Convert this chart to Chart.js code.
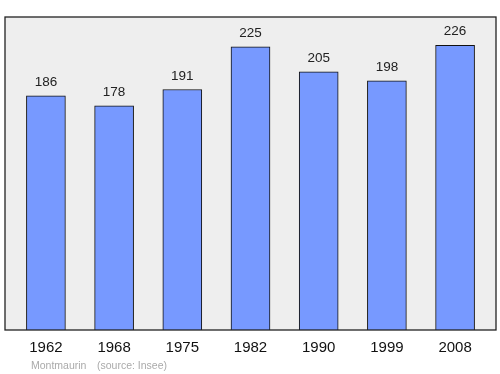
<!DOCTYPE html>
<html>
<head>
<meta charset="utf-8">
<script src="https://cdn.jsdelivr.net/npm/chart.js@4"></script>
<style>
  html, body { margin: 0; padding: 0; background: #fff; }
  #wrap { width: 500px; height: 374px; position: relative; }
</style>
</head>
<body>
<div id="wrap"><canvas id="popChart" width="500" height="374"></canvas></div>
<script>
  const years = ['1962', '1968', '1975', '1982', '1990', '1999', '2008'];
  const population = [186, 178, 191, 225, 205, 198, 226];
  const placeName = 'Montmaurin';
  const sourceNote = '(source: Insee)';

  const FONT = '"Liberation Sans", Arial, sans-serif';

  // fond gris + cadre autour de la zone de tracé
  const framePlugin = {
    id: 'frame',
    beforeDraw(chart) {
      const { ctx, chartArea: a } = chart;
      ctx.save();
      ctx.fillStyle = '#eeeeee';
      ctx.fillRect(a.left, a.top, a.right - a.left, a.bottom - a.top);
      ctx.restore();
    },
    afterDatasetsDraw(chart) {
      const { ctx, chartArea: a } = chart;
      ctx.save();
      ctx.strokeStyle = '#222';
      ctx.lineWidth = 1.3;
      ctx.strokeRect(a.left, a.top, a.right - a.left, a.bottom - a.top);

      // valeurs au-dessus des barres
      ctx.fillStyle = '#222';
      ctx.font = '13.5px ' + FONT;
      ctx.textAlign = 'center';
      ctx.textBaseline = 'alphabetic';
      chart.getDatasetMeta(0).data.forEach((bar, i) => {
        ctx.fillText(String(population[i]), bar.x, bar.y - 10);
      });

      // mention de source
      ctx.fillStyle = '#aaaaaa';
      ctx.font = '10.5px ' + FONT;
      ctx.textAlign = 'left';
      ctx.fillText(placeName, 31, 369);
      ctx.fillText(sourceNote, 97, 369);
      ctx.restore();
    }
  };

  new Chart(document.getElementById('popChart'), {
    type: 'bar',
    data: {
      datasets: [{
        data: population.map((v, i) => ({ x: i, y: v })),
        backgroundColor: '#7799ff',
        borderColor: '#111',
        borderWidth: 1,
        barThickness: 39
      }]
    },
    plugins: [framePlugin],
    options: {
      responsive: false,
      animation: false,
      layout: { padding: { left: 5, right: 4, top: 17, bottom: 0 } },
      plugins: { legend: { display: false }, tooltip: { enabled: false } },
      scales: {
        x: {
          type: 'linear',
          offset: false,
          bounds: 'ticks',
          min: -0.6,
          max: years.length - 0.4,
          grid: { display: false },
          border: { display: false },
          afterBuildTicks: (axis) => { axis.ticks = years.map((y, i) => ({ value: i })); },
          afterFit: (axis) => { axis.height = 44; },
          ticks: {
            color: '#111',
            font: { family: FONT, size: 15 },
            padding: 1,
            maxRotation: 0,
            autoSkip: false,
            callback: (v) => years[v] ?? ''
          }
        },
        y: {
          display: false,
          min: 0,
          max: 248.6
        }
      }
    }
  });
</script>
</body>
</html>
